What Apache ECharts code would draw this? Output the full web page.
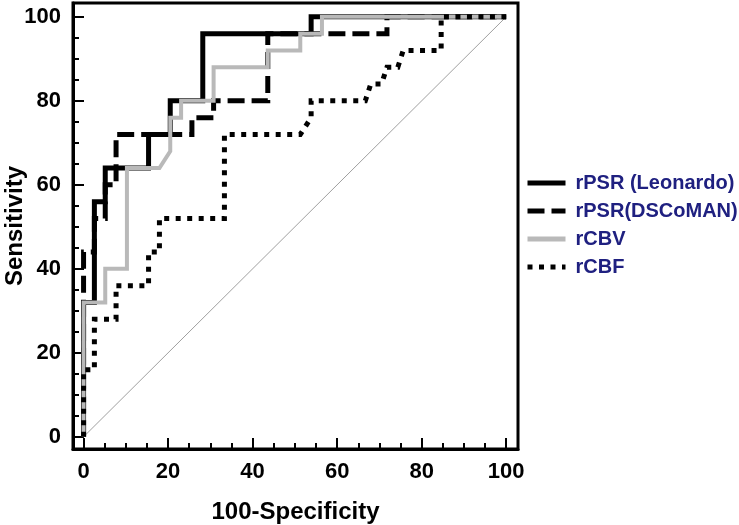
<!DOCTYPE html>
<html><head><meta charset="utf-8">
<script src="https://cdn.jsdelivr.net/npm/echarts@6/dist/echarts.min.js"></script>
<style>html,body{margin:0;padding:0;background:#fff}#c{width:739px;height:525px}</style>
</head><body><div id="c"></div>
<script>
// ---- data (x = 100-Specificity, y = Sensitivity) ----
const seriesNames = ['rPSR (Leonardo)', 'rPSR(DSCoMAN)', 'rCBV', 'rCBF'];
const majorTicks = [0, 20, 40, 60, 80, 100];
const minorTicks = [5, 10, 15, 25, 30, 35, 45, 50, 55, 65, 70, 75, 85, 90, 95];

const leonardoX = [0, 0, 2.56, 2.56, 5.13, 5.13, 15.38, 15.38, 20.51, 20.51, 28.21, 28.21, 53.85, 53.85, 100];
const leonardoY = [0, 32, 32, 56, 56, 64, 64, 72, 72, 80, 80, 96, 96, 100, 100];

const dscomanX = [0, 0, 2.56, 2.56, 5.13, 5.13, 7.69, 7.69, 25.64, 25.64, 30.77, 30.77, 43.59, 43.59, 71.79, 71.79, 100];
const dscomanY = [0, 44, 44, 52, 52, 60, 60, 72, 72, 76, 76, 80, 80, 96, 96, 100, 100];

const rcbvX = [0, 0, 5.13, 5.13, 10.26, 10.26, 17.95, 20.51, 20.51, 23.08, 23.08, 30.77, 30.77, 43.59, 43.59, 51.28, 51.28, 56.41, 56.41, 100];
const rcbvY = [0, 32, 32, 40, 40, 64, 64, 68, 76, 76, 80, 80, 88, 88, 92, 92, 96, 96, 100, 100];

const rcbfX = [0, 0, 2.56, 2.56, 7.69, 7.69, 15.38, 15.38, 17.95, 17.95, 33.33, 33.33, 51.28, 53.85, 53.85, 66.67, 67.95, 70.51, 71.79, 74.36, 75.64, 84.62, 84.62, 100];
const rcbfY = [0, 16, 16, 28, 28, 36, 36, 44, 44, 52, 52, 72, 72, 76, 80, 80, 84, 84, 88, 88, 92, 92, 100, 100];

const diagonalX = [0, 100];
const diagonalY = [0, 100];

function pts(xs, ys) { return xs.map((x, i) => [x, ys[i]]); }

const font = "'Liberation Sans', Arial, Helvetica, sans-serif";
const tickStyle = { color: '#000', width: 2 };
const labelStyle = { color: '#000', fontSize: 22, fontWeight: 'bold', fontFamily: font };
const nameStyle = { color: '#000', fontSize: 24, fontWeight: 'bold', fontFamily: font };

function mainAxis(min, max, name, gap) {
  return {
    type: 'value', min: min, max: max,
    axisLine: { show: true, onZero: false, lineStyle: { color: '#000', width: 3 } },
    axisTick: { show: true, inside: true, length: 11, customValues: majorTicks, lineStyle: tickStyle },
    axisLabel: Object.assign({ customValues: majorTicks, margin: 12 }, labelStyle),
    splitLine: { show: false },
    name: name, nameLocation: 'middle', nameGap: gap, nameMoveOverlap: false, nameTextStyle: nameStyle
  };
}
function minorAxis(min, max) {
  return {
    type: 'value', min: min, max: max,
    axisLine: { show: false, onZero: false },
    axisTick: { show: true, inside: true, length: 6, customValues: minorTicks, lineStyle: tickStyle },
    axisLabel: { show: false },
    splitLine: { show: false }
  };
}

const xMain = mainAxis(-2.5, 102.8, '100-Specificity', 51); xMain.position = 'bottom';
const xMinor = minorAxis(-2.5, 102.8); xMinor.position = 'bottom';
const yMain = mainAxis(-2.9, 103.3, 'Sensitivity', 46); yMain.position = 'left';
const yMinor = minorAxis(-2.9, 103.3); yMinor.position = 'left';

function lineSeries(name, xs, ys, color, width, type) {
  return {
    name: name, type: 'line', data: pts(xs, ys), xAxisIndex: 0, yAxisIndex: 0,
    symbol: 'none', silent: true,
    lineStyle: { color: color, width: width, type: type, cap: 'butt', join: 'miter' },
    itemStyle: { color: color }
  };
}

const chart = echarts.init(document.getElementById('c'), null, { renderer: 'canvas' });
chart.setOption({
  animation: false,
  backgroundColor: '#fff',
  grid: { left: 73, right: 221, top: 3, bottom: 76, show: true, borderColor: '#000', borderWidth: 3,
          backgroundColor: 'transparent', containLabel: false, outerBoundsMode: 'none' },
  xAxis: [xMain, xMinor],
  yAxis: [yMain, yMinor],
  legend: {
    data: seriesNames,
    orient: 'vertical', left: 525, top: 173, padding: 0,
    itemWidth: 38, itemHeight: 14, itemGap: 8,
    itemStyle: { opacity: 0, borderWidth: 0 },
    lineStyle: { width: 5 },
    textStyle: { color: '#1f2080', fontSize: 20, fontWeight: 'bold', fontFamily: font, padding: [0, 0, 0, 5] }
  },
  series: [
    lineSeries('diag', diagonalX, diagonalY, '#a0a0a0', 1, 'solid'),
    lineSeries(seriesNames[0], leonardoX, leonardoY, '#000', 5, 'solid'),
    lineSeries(seriesNames[1], dscomanX, dscomanY, '#000', 5, [17, 7]),
    lineSeries(seriesNames[2], rcbvX, rcbvY, '#b9b9b9', 4, 'solid'),
    lineSeries(seriesNames[3], rcbfX, rcbfY, '#000', 5, [5, 6.5])
  ]
});
</script>
</body></html>
